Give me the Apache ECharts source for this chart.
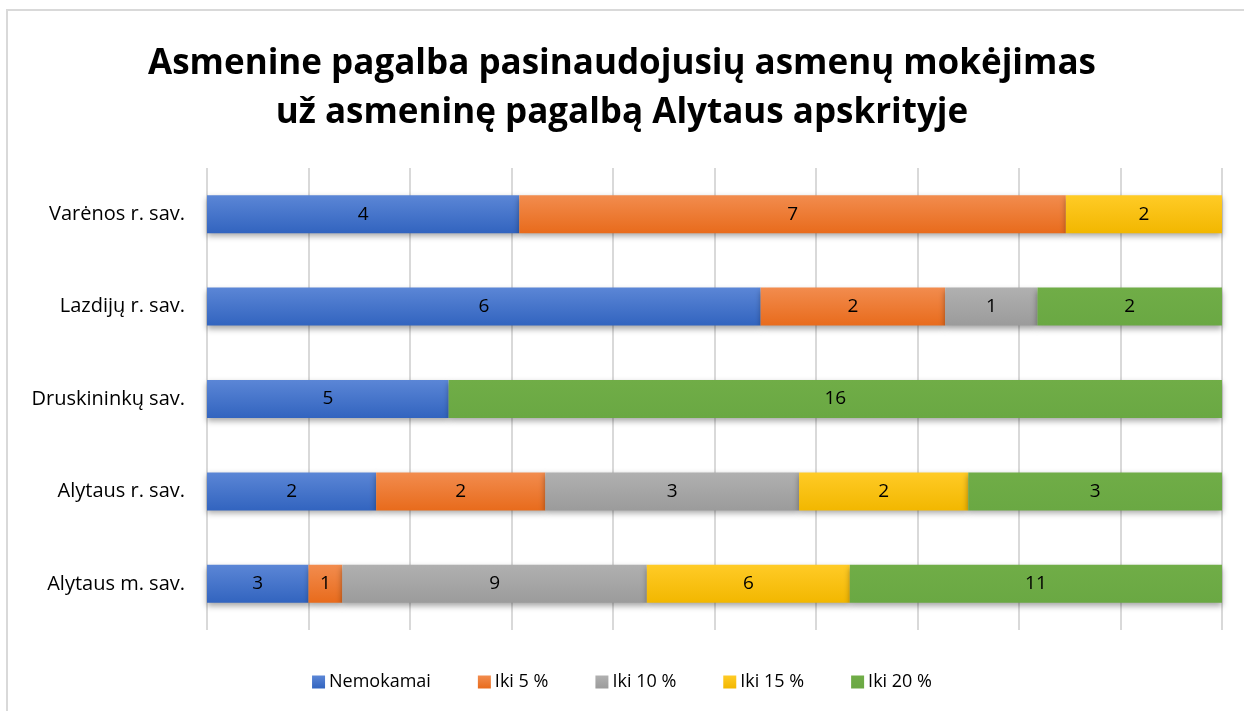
<!DOCTYPE html>
<html>
<head>
<meta charset="utf-8">
<script src="https://cdn.jsdelivr.net/npm/echarts@6/dist/echarts.min.js"></script>
<style>
    html, body { margin: 0; padding: 0; background: #fff; }
    #main { width: 1244px; height: 711px; }
</style>
</head>
<body>
<div id="main"></div>
<script>
    // savivaldybės (iš apačios į viršų)
    var categories = ['Alytaus m. sav.', 'Alytaus r. sav.', 'Druskininkų sav.', 'Lazdijų r. sav.', 'Varėnos r. sav.'];
    var seriesNames = ['Nemokamai', 'Iki 5 %', 'Iki 10 %', 'Iki 15 %', 'Iki 20 %'];
    var nemokamai = [3, 2, 5, 6, 4];
    var iki5 = [1, 2, 0, 2, 7];
    var iki10 = [9, 3, 0, 1, 0];
    var iki15 = [6, 2, 0, 0, 2];
    var iki20 = [11, 3, 16, 2, 0];
    var colors = [['#5b86d6', '#3264bf'], ['#f28c4e', '#e86b1c'], ['#b0b0b0', '#9b9b9b'], ['#ffcb26', '#f2b700'], ['#70ad47', '#6aa843']];

    var raw = [nemokamai, iki5, iki10, iki15, iki20];
    // sumos eilutėms (100 % sukrauta)
    var totals = categories.map(function (c, i) {
        return raw.reduce(function (s, arr) { return s + arr[i]; }, 0);
    });

    var series = raw.map(function (arr, k) {
        return {
            name: seriesNames[k],
            type: 'bar',
            stack: 'viso',
            barWidth: 38,
            itemStyle: {
                color: new echarts.graphic.LinearGradient(0, 0, 0, 1, [
                    { offset: 0, color: colors[k][0] },
                    { offset: 1, color: colors[k][1] }
                ]),
                shadowColor: 'rgba(0,0,0,0.35)',
                shadowBlur: 6,
                shadowOffsetY: 3
            },
            label: {
                show: true,
                color: '#000',
                fontSize: 19,
                fontFamily: 'Open Sans',
                formatter: function (p) { return arr[p.dataIndex] ? arr[p.dataIndex] : ''; }
            },
            data: arr.map(function (v, i) { return v / totals[i] * 100; })
        };
    });

    var myChart = echarts.init(document.getElementById('main'));
    var option = {
        animation: false,
        color: colors.map(function (c) { return c[1]; }),
        title: {
            text: 'Asmenine pagalba pasinaudojusių asmenų mokėjimas\nuž asmeninę pagalbą Alytaus apskrityje',
            left: 'center',
            top: 35,
            textStyle: {
                fontFamily: 'Open Sans',
                fontWeight: 'bold',
                fontSize: 35,
                lineHeight: 49,
                color: '#000'
            }
        },
        legend: {
            bottom: 15,
            left: 'center',
            itemWidth: 13,
            itemHeight: 13,
            itemGap: 47,
            icon: 'rect',
            textStyle: { fontSize: 18, fontFamily: 'Open Sans', color: '#000', padding: [0, 0, 0, -1] },
            data: seriesNames
        },
        grid: { left: 207, right: 22, top: 168, bottom: 81 },
        xAxis: {
            type: 'value',
            min: 0,
            max: 100,
            interval: 10,
            axisLabel: { show: false },
            axisLine: { show: false },
            axisTick: { show: false },
            splitLine: { lineStyle: { color: '#d9d9d9', width: 2 } }
        },
        yAxis: {
            type: 'category',
            data: categories,
            axisLine: { show: false },
            axisTick: { show: false },
            axisLabel: { fontSize: 20, fontFamily: 'Open Sans', color: '#000', margin: 22 }
        },
        graphic: [{
            type: 'rect',
            shape: { x: 7, y: 10, width: 1250, height: 720 },
            style: { fill: 'none', stroke: '#d9d9d9', lineWidth: 2 },
            silent: true
        }],
        series: series
    };
    myChart.setOption(option);
</script>
</body>
</html>
